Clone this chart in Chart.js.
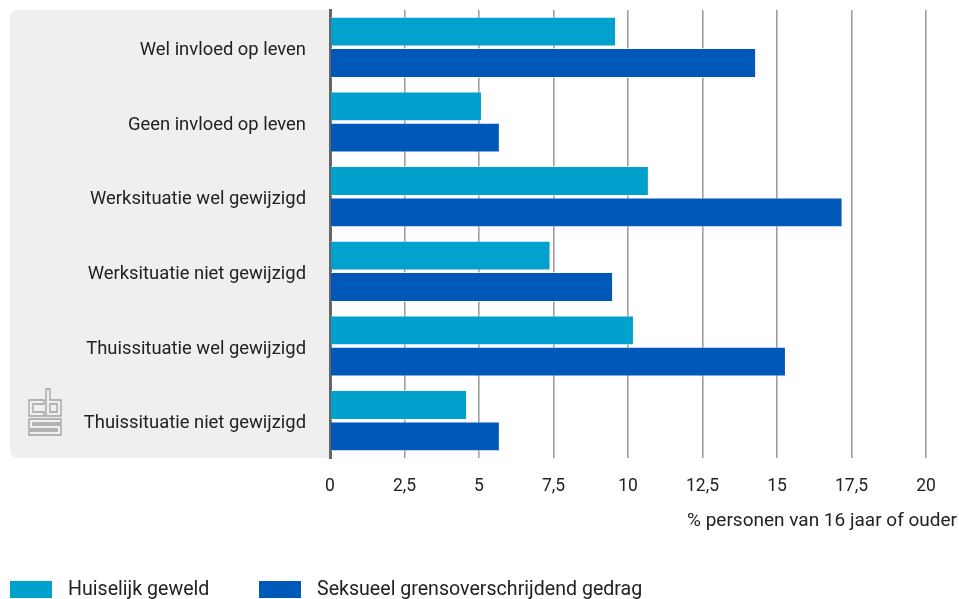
<!DOCTYPE html>
<html>
<head>
<meta charset="utf-8">
<script src="https://cdn.jsdelivr.net/npm/chart.js@4/dist/chart.umd.min.js"></script>
<style>
  html, body { margin: 0; padding: 0; background: #fff; }
  #wrap { width: 959px; height: 599px; position: relative; }
</style>
</head>
<body>
<div id="wrap"><canvas id="c" width="959" height="599"></canvas></div>
<script>
const categories = [
  "Wel invloed op leven",
  "Geen invloed op leven",
  "Werksituatie wel gewijzigd",
  "Werksituatie niet gewijzigd",
  "Thuissituatie wel gewijzigd",
  "Thuissituatie niet gewijzigd"
];
const huiselijkGeweld = [9.6, 5.1, 10.7, 7.4, 10.2, 4.6];
const seksueelGrensoverschrijdend = [14.3, 5.7, 17.2, 9.5, 15.3, 5.7];
const seriesNames = ["Huiselijk geweld", "Seksueel grensoverschrijdend gedrag"];
const xTickValues = [0, 2.5, 5, 7.5, 10, 12.5, 15, 17.5, 20];
const axisTitle = "% personen van 16 jaar of ouder";

const FONT = "Roboto, 'Open Sans', sans-serif";
const colors = ["#00a1cd", "#0058b8"];

const decorPlugin = {
  id: 'decor',
  beforeDraw(chart) {
    const ctx = chart.ctx, a = chart.chartArea;
    ctx.save();
    // grey label panel
    const x0 = 10, x1 = a.left, y0 = a.top, y1 = a.bottom, r = 9;
    ctx.fillStyle = '#efefef';
    ctx.beginPath();
    ctx.moveTo(x1, y0);
    ctx.lineTo(x0 + r, y0);
    ctx.quadraticCurveTo(x0, y0, x0, y0 + r);
    ctx.lineTo(x0, y1 - r);
    ctx.quadraticCurveTo(x0, y1, x0 + r, y1);
    ctx.lineTo(x1, y1);
    ctx.closePath();
    ctx.fill();
    // cbs logo
    ctx.strokeStyle = '#a0a0a0';
    ctx.lineWidth = 1.3;
    const poly = (pts) => {
      ctx.beginPath();
      ctx.moveTo(pts[0][0], pts[0][1]);
      for (let i = 1; i < pts.length; i++) ctx.lineTo(pts[i][0], pts[i][1]);
      ctx.closePath();
      ctx.stroke();
    };
    poly([[44,400],[29,400],[29,416],[44,416],[44,412],[33,412],[33,404],[44,404]]);
    poly([[46,389],[50,389],[50,400],[61,400],[61,416],[46,416]]);
    poly([[50,404],[57,404],[57,412],[50,412]]);
    poly([[61,419],[29,419],[29,429],[57,429],[57,431],[29,431],[29,435],[61,435],[61,425],[33,425],[33,423],[61,423]]);
    ctx.restore();
  },
  afterDraw(chart) {
    const ctx = chart.ctx;
    ctx.save();
    // axis title
    ctx.fillStyle = '#222';
    ctx.font = "19px " + FONT;
    ctx.textAlign = 'right';
    ctx.textBaseline = 'middle';
    ctx.fillText(axisTitle, 957, 521);
    // legend
    ctx.font = "19.6px " + FONT;
    ctx.textAlign = 'left';
    const xs = [10, 259];
    chart.data.datasets.forEach((ds, i) => {
      ctx.fillStyle = ds.backgroundColor;
      ctx.fillRect(xs[i], 581, 42, 17);
      ctx.fillStyle = '#222';
      ctx.fillText(ds.label, xs[i] + 58, 590);
    });
    ctx.restore();
  }
};

new Chart(document.getElementById('c'), {
  type: 'bar',
  data: {
    labels: categories,
    datasets: [
      { label: seriesNames[0], data: huiselijkGeweld, backgroundColor: colors[0],
        borderColor: 'rgba(255,255,255,0.55)', borderWidth: {top:1, right:1, bottom:1, left:0},
        categoryPercentage: 0.84, barPercentage: 0.95 },
      { label: seriesNames[1], data: seksueelGrensoverschrijdend, backgroundColor: colors[1],
        borderColor: 'rgba(255,255,255,0.55)', borderWidth: {top:1, right:1, bottom:1, left:0},
        categoryPercentage: 0.84, barPercentage: 0.95 }
    ]
  },
  plugins: [decorPlugin],
  options: {
    indexAxis: 'y',
    responsive: false,
    animation: false,
    layout: { padding: { top: 10, right: 33, left: 0, bottom: 0 } },
    plugins: {
      legend: { display: false },
      tooltip: { enabled: false },
      title: { display: false }
    },
    scales: {
      x: {
        type: 'linear',
        min: 0, max: 20,
        afterBuildTicks(scale) { scale.ticks = xTickValues.map(v => ({ value: v })); },
        afterFit(scale) { scale.height = 141; scale.paddingLeft = 0; scale.paddingRight = 0; },
        ticks: {
          color: '#222',
          font: { family: FONT, size: 17.5 },
          padding: 18,
          callback: (v) => String(v).replace('.', ',')
        },
        grid: { color: '#9e9e9e', lineWidth: 1.6, drawTicks: false },
        border: { display: false }
      },
      y: {
        afterFit(scale) { scale.width = 330; scale.paddingTop = 0; scale.paddingBottom = 0; },
        ticks: {
          color: '#222',
          font: { family: FONT, size: 18.4 },
          padding: 24,
          labelOffset: 3
        },
        grid: { display: false, drawTicks: false },
        border: { display: true, color: '#666', width: 3 }
      }
    }
  }
});
</script>
</body>
</html>
